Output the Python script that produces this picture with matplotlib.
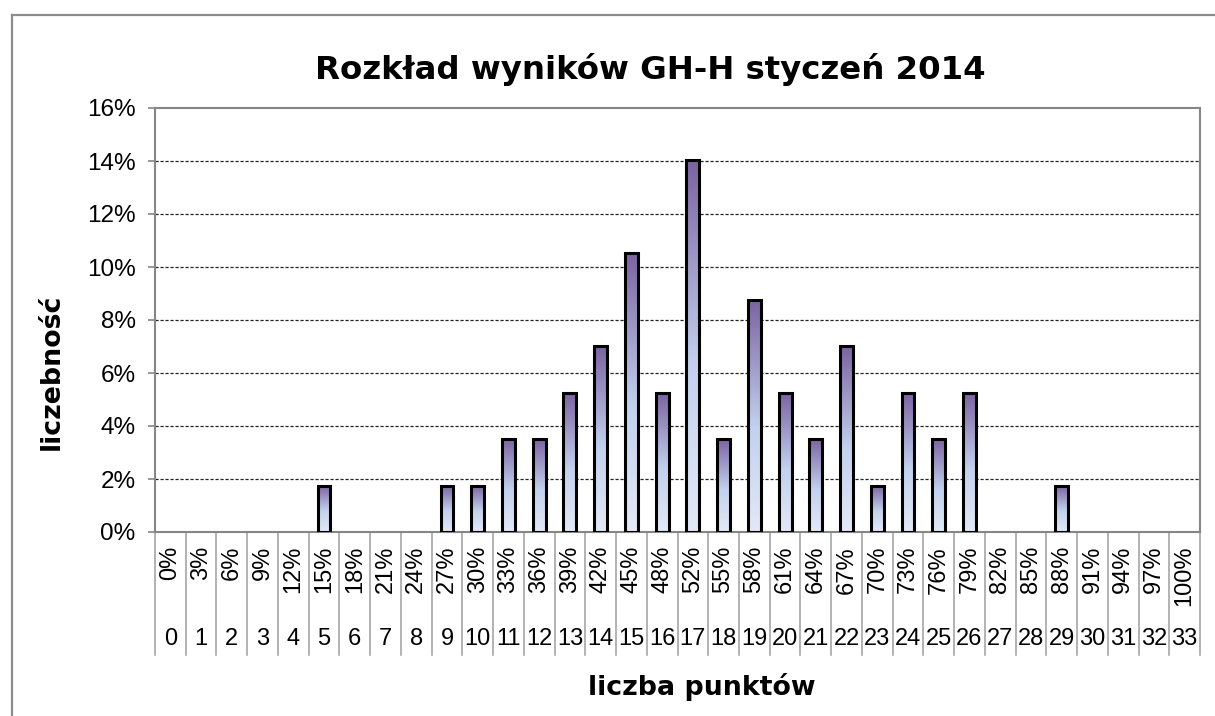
import numpy as np
import matplotlib.pyplot as plt
from matplotlib.colors import LinearSegmentedColormap
from matplotlib.lines import Line2D
import matplotlib.transforms as mtransforms

# --- DATA ---
points = list(range(34))
pct_labels = ["0%", "3%", "6%", "9%", "12%", "15%", "18%", "21%", "24%", "27%",
              "30%", "33%", "36%", "39%", "42%", "45%", "48%", "52%", "55%", "58%",
              "61%", "64%", "67%", "70%", "73%", "76%", "79%", "82%", "85%", "88%",
              "91%", "94%", "97%", "100%"]
freq = [0, 0, 0, 0, 0, 1.75, 0, 0, 0, 1.75,
        1.75, 3.51, 3.51, 5.26, 7.02, 10.53, 5.26, 14.04, 3.51, 8.77,
        5.26, 3.51, 7.02, 1.75, 5.26, 3.51, 5.26, 0, 0, 1.75,
        0, 0, 0, 0]

title = "Rozkład wyników GH-H styczeń 2014"
xlabel = "liczba punktów"
ylabel = "liczebność"

W, H = 1215, 716
fig = plt.figure(figsize=(W / 100, H / 100), dpi=100)
ax = fig.add_axes([155 / W, 1 - 532 / H, (1200 - 155) / W, (532 - 108) / H])

tick_font = "Liberation Sans"
gray = "#868686"

# gradient bars: purple top -> light blue bottom
cmap = LinearSegmentedColormap.from_list(
    "bar", [(0, "#e3e9f6"), (0.45, "#c2d1ee"), (1, "#7b62a0")])
grad = np.linspace(0, 1, 256).reshape(-1, 1)
bw = 0.42
x = np.arange(len(points))
for xi, v in zip(x, freq):
    if v <= 0:
        continue
    ax.imshow(grad, cmap=cmap, origin="lower", aspect="auto",
              extent=[xi - bw / 2, xi + bw / 2, 0, v], zorder=2)
bars = ax.bar(x, freq, width=bw, color="none", edgecolor="black", linewidth=2.2, zorder=3)
for b, v in zip(bars, freq):
    if v <= 0:
        b.set_visible(False)

ax.set_xlim(-0.5, len(points) - 0.5)
ax.set_ylim(0, 16)
ax.set_yticks(range(0, 17, 2))
ax.set_yticklabels([f"{t}%" for t in range(0, 17, 2)], fontsize=17.5, family=tick_font)
ax.tick_params(axis="y", length=5, width=1.2, color=gray, pad=9)

for t in range(2, 16, 2):
    ax.axhline(t, color="#222222", lw=0.9, ls=(0, (2.5, 1.5)), zorder=1)

for s in ax.spines.values():
    s.set_color(gray)
    s.set_linewidth(1.5)

# multi-level category axis
ax.set_xticks(x)
ax.set_xticklabels(pct_labels, rotation=90, fontsize=17, family=tick_font, va="top")
ax.tick_params(axis="x", length=0, pad=10)
trans = mtransforms.blended_transform_factory(ax.transData, ax.transAxes)
sep_bottom = -(655 - 532) / (532 - 108)
for b in np.arange(-0.5, len(points), 1.0):
    ax.plot([b, b], [0, sep_bottom], transform=trans, color="#a6a6a6",
            lw=1.2, clip_on=False)
num_y = -(639 - 532) / (532 - 108)
for xi, p in zip(x, points):
    ax.text(xi, num_y, str(p), transform=trans, ha="center", va="center",
            fontsize=17, family=tick_font)

fig.text(650 / W, 1 - 70 / H, title, ha="center", va="center",
         fontsize=23.3, fontweight="bold", family="DejaVu Sans")
fig.text(702 / W, 1 - 687 / H, xlabel, ha="center", va="center",
         fontsize=19.3, fontweight="bold", family="DejaVu Sans")
fig.text(52 / W, 1 - 372 / H, ylabel, ha="center", va="center", rotation=90,
         fontsize=19.3, fontweight="bold", family="DejaVu Sans")

# outer chart frame (only left and top visible)
fig.add_artist(Line2D([12 / W, 12 / W], [0, 1 - 15 / H], color="#8c8c8c", lw=1.6))
fig.add_artist(Line2D([12 / W, 1], [1 - 15 / H, 1 - 15 / H], color="#8c8c8c", lw=1.6))

fig.savefig("out.png", dpi=100)
